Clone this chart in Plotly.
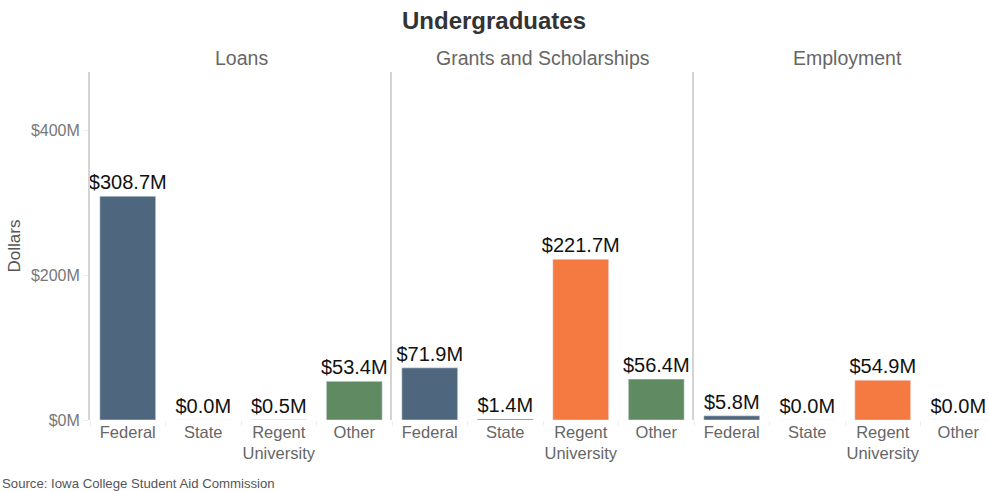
import plotly.graph_objects as go

# Undergraduate financial aid by source, in millions of dollars
panels = ["Loans", "Grants and Scholarships", "Employment"]
sources = ["Federal", "State", "Regent University", "Other"]
source_labels = ["Federal", "State", "Regent<br>University", "Other"]
loans = [308.7, 0.0, 0.5, 53.4]
grants = [71.9, 1.4, 221.7, 56.4]
employment = [5.8, 0.0, 54.9, 0.0]
y_ticks = [0, 200, 400]
y_tick_labels = ["$0M", "$200M", "$400M"]

colors = {
    "Federal": "#4f677e",
    "State": "#ab5346",
    "Regent University": "#f47a42",
    "Other": "#608a62",
}

FONT = "Liberation Sans, Arial, sans-serif"
W, H = 989, 491
ML, MR, MT, MB = 90, 0, 72, 71
plot_w = W - ML - MR
plot_h = H - MT - MB
panel_px = 302  # width of a full panel in pixels

def px_to_paper_x(px):
    return (px - ML) / plot_w

def px_to_paper_y(py):
    return (H - MB - py) / plot_h

domains = [
    [0.0, px_to_paper_x(ML + panel_px)],
    [px_to_paper_x(ML + panel_px), px_to_paper_x(ML + 2 * panel_px)],
    [px_to_paper_x(ML + 2 * panel_px), 1.0],
]

fig = go.Figure()
series = [loans, grants, employment]
for i, vals in enumerate(series):
    sfx = "" if i == 0 else str(i + 1)
    fig.add_trace(go.Bar(
        x=source_labels,
        y=vals,
        marker_color=[colors[s] for s in sources],
        text=[f"${v:.1f}M" for v in vals],
        textposition="outside",
        textfont=dict(size=20, color="#111111", family=FONT),
        cliponaxis=False,
        width=0.74,
        xaxis="x" + sfx,
        yaxis="y" + sfx,
        showlegend=False,
        hovertemplate="%{y:.1f}M<extra></extra>",
    ))

layout = dict(
    width=W, height=H,
    margin=dict(l=ML, r=MR, t=MT, b=MB, autoexpand=False),
    paper_bgcolor="white", plot_bgcolor="white",
    font=dict(family=FONT, color="#666666"),
    uniformtext=dict(minsize=20, mode="show"),
)

for i in range(3):
    sfx = "" if i == 0 else str(i + 1)
    dom = domains[i]
    width_px = (dom[1] - dom[0]) * plot_w
    n_cat = width_px / (panel_px / 4)
    layout["xaxis" + sfx] = dict(
        domain=dom,
        anchor="y" + sfx,
        range=[-0.5, -0.5 + n_cat],
        type="category",
        tickangle=0,
        automargin=False,
        showgrid=False, zeroline=False, showline=False,
        ticks="outside", tickson="boundaries", ticklen=5, tickcolor="#eeeeee",
        tickfont=dict(size=16.5, color="#666666"),
        fixedrange=True,
    )
    ydict = dict(
        anchor="x" + sfx,
        range=[0, 480],
        tickvals=y_ticks,
        ticktext=y_tick_labels,
        automargin=False,
        showgrid=False, zeroline=False,
        showline=True, linecolor="#d4d4d4", linewidth=2,
        fixedrange=True,
    )
    if i == 0:
        ydict.update(ticks="outside", ticklen=5, tickcolor="#eeeeee",
                     tickfont=dict(size=16, color="#777777"),
                     title=dict(text="Dollars", font=dict(size=17, color="#555555"), standoff=6))
    else:
        ydict.update(matches="y", showticklabels=False, ticks="")
    layout["yaxis" + sfx] = ydict

fig.update_layout(**layout)

annotations = [
    dict(text="<b>Undergraduates</b>", x=px_to_paper_x(494), y=px_to_paper_y(20),
         xref="paper", yref="paper", xanchor="center", yanchor="middle", showarrow=False,
         font=dict(size=24, color="#333333")),
]
title_centers = [241, 543, 847]
for name, cx in zip(panels, title_centers):
    annotations.append(dict(
        text=name, x=px_to_paper_x(cx), y=px_to_paper_y(58), xref="paper", yref="paper",
        xanchor="center", yanchor="middle", showarrow=False,
        font=dict(size=19.5, color="#666666"),
    ))
annotations.append(dict(
    text="Source: Iowa College Student Aid Commission",
    x=px_to_paper_x(0), y=px_to_paper_y(483), xref="paper", yref="paper",
    xanchor="left", yanchor="middle", showarrow=False,
    font=dict(size=13.2, color="#555555"),
))
fig.update_layout(annotations=annotations)

fig.write_html("out.html")
